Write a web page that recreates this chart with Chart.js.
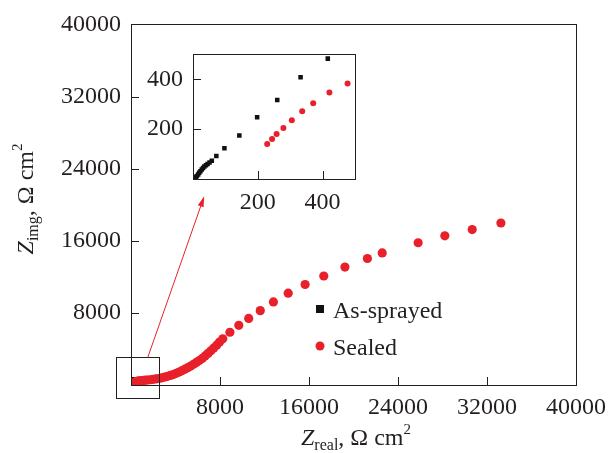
<!DOCTYPE html>
<html>
<head>
<meta charset="utf-8">
<script src="https://cdn.jsdelivr.net/npm/chart.js@4.4.0/dist/chart.umd.min.js"></script>
<style>
  body { margin: 0; background: #fff; }
  #wrap { position: relative; width: 614px; height: 453px; }
  #mainChart { position: absolute; left: 0; top: 0; }
  #insetChart { position: absolute; left: 130px; top: 30px; }
</style>
</head>
<body>
<div id="wrap">
  <canvas id="mainChart" width="614" height="453"></canvas>
  <canvas id="insetChart" width="240" height="190"></canvas>
</div>
<script>
// impedance data, Ohm cm2
const asSprayedX = [3, 6, 9, 12, 16, 19, 23, 27, 31, 35, 40, 45, 51, 58, 72, 97, 143, 198, 260, 332, 416];
const asSprayedY = [0, 5, 8, 12, 18, 25, 31, 38, 44, 50, 55, 60, 66, 73, 92, 123, 175, 248, 317, 408, 483];

const sealedX = [229, 244, 258, 279, 305, 337, 371, 421, 477, 540, 620, 720, 840, 980, 1140, 1320, 1520,
  1740, 1980, 2240, 2500, 2760, 3020, 3280, 3540, 3800, 4060, 4320, 4580, 4840, 5100, 5360, 5620, 5880,
  6140, 6400, 6660, 6920, 7180, 7440, 7700, 7960, 8250, 8890, 9690, 10580, 11620, 12800, 14130, 15650,
  17330, 19230, 21250, 22580, 25810, 28210, 30670, 33250];
const sealedY = [140, 161, 181, 205, 236, 272, 304, 347, 383, 405, 425, 445, 465, 485, 505, 530, 555,
  585, 625, 670, 720, 800, 880, 960, 1060, 1160, 1290, 1430, 1590, 1750, 1920, 2100, 2300, 2500,
  2720, 2950, 3220, 3500, 3800, 4100, 4420, 4760, 5120, 5850, 6620, 7380, 8250, 9210, 10190, 11150,
  12090, 13080, 14030, 14650, 15780, 16550, 17240, 17970];

const mainTicks = [0, 8000, 16000, 24000, 32000, 40000];
const insetTicks = [0, 200, 400];

// zoom box around the origin and the arrow to the inset (main chart units)
const zoomBox = { x1: -1330, x2: 2490, y1: -1420, y2: 3070 };
const arrowFrom = { x: 1510, y: 3070 };
const arrowTo = { x: 6580, y: 20930 };

const RED = "#e8202a";
const INK = "#231f20";
const FONT = '"Liberation Serif", "Times New Roman", serif';

const toPoints = (xs, ys) => xs.map((x, i) => ({ x: x, y: ys[i] }));

// axis box + inward tick marks
const framePlugin = {
  id: "frame",
  afterDatasetsDraw(chart) {
    const ctx = chart.ctx;
    const a = chart.chartArea;
    ctx.save();
    ctx.strokeStyle = INK;
    ctx.lineWidth = 1;
    ctx.strokeRect(Math.round(a.left) + 0.5, Math.round(a.top) + 0.5,
      Math.round(a.right - a.left), Math.round(a.bottom - a.top));
    const tl = chart.options.tickIn || 8;
    ctx.beginPath();
    chart.scales.x.ticks.forEach((t) => {
      if (t.value === chart.scales.x.min || t.value === chart.scales.x.max) return;
      const px = Math.round(chart.scales.x.getPixelForValue(t.value)) + 0.5;
      ctx.moveTo(px, a.bottom);
      ctx.lineTo(px, a.bottom - tl);
    });
    chart.scales.y.ticks.forEach((t) => {
      if (t.value === chart.scales.y.min || t.value === chart.scales.y.max) return;
      const py = Math.round(chart.scales.y.getPixelForValue(t.value)) + 0.5;
      ctx.moveTo(a.left, py);
      ctx.lineTo(a.left + tl, py);
    });
    ctx.stroke();
    ctx.restore();
  },
};

// Z with subscript and cm with superscript
function drawZLabel(ctx, sub, cx, cy, rotated) {
  const parts = [
    { t: "Z", f: "italic 24px " + FONT, dy: 0 },
    { t: sub, f: "16px " + FONT, dy: 5 },
    { t: ", \u03A9 cm", f: "24px " + FONT, dy: 0 },
    { t: "2", f: "15px " + FONT, dy: -11 },
  ];
  let w = 0;
  parts.forEach((p) => {
    ctx.font = p.f;
    p.w = ctx.measureText(p.t).width;
    w += p.w;
  });
  ctx.save();
  ctx.translate(cx, cy);
  if (rotated) ctx.rotate(-Math.PI / 2);
  ctx.fillStyle = INK;
  ctx.textBaseline = "alphabetic";
  let x = -w / 2;
  parts.forEach((p) => {
    ctx.font = p.f;
    ctx.fillText(p.t, x, p.dy);
    x += p.w;
  });
  ctx.restore();
}

const extrasPlugin = {
  id: "extras",
  afterDraw(chart) {
    const ctx = chart.ctx;
    const xs = chart.scales.x;
    const ys = chart.scales.y;
    ctx.save();
    // zoom box
    const bx1 = Math.round(xs.getPixelForValue(zoomBox.x1)) + 0.5;
    const bx2 = Math.round(xs.getPixelForValue(zoomBox.x2)) + 0.5;
    const by1 = Math.round(ys.getPixelForValue(zoomBox.y2)) + 0.5;
    const by2 = Math.round(ys.getPixelForValue(zoomBox.y1)) + 0.5;
    ctx.strokeStyle = INK;
    ctx.lineWidth = 1;
    ctx.strokeRect(bx1, by1, bx2 - bx1, by2 - by1);
    // arrow
    const ax1 = xs.getPixelForValue(arrowFrom.x);
    const ay1 = ys.getPixelForValue(arrowFrom.y);
    const ax2 = xs.getPixelForValue(arrowTo.x);
    const ay2 = ys.getPixelForValue(arrowTo.y);
    const ang = Math.atan2(ay2 - ay1, ax2 - ax1);
    const hl = 11;
    ctx.strokeStyle = RED;
    ctx.fillStyle = RED;
    ctx.beginPath();
    ctx.moveTo(ax1, ay1);
    ctx.lineTo(ax2 - hl * 0.8 * Math.cos(ang), ay2 - hl * 0.8 * Math.sin(ang));
    ctx.stroke();
    ctx.beginPath();
    ctx.moveTo(ax2, ay2);
    ctx.lineTo(ax2 - hl * Math.cos(ang - 0.28), ay2 - hl * Math.sin(ang - 0.28));
    ctx.lineTo(ax2 - hl * Math.cos(ang + 0.28), ay2 - hl * Math.sin(ang + 0.28));
    ctx.closePath();
    ctx.fill();
    // legend
    const ds = chart.data.datasets;
    ctx.fillStyle = ds[0].backgroundColor;
    ctx.fillRect(316, 305, 8, 8);
    ctx.fillStyle = ds[1].backgroundColor;
    ctx.beginPath();
    ctx.arc(320, 346, 4.5, 0, Math.PI * 2);
    ctx.fill();
    ctx.fillStyle = INK;
    ctx.font = "24px " + FONT;
    ctx.textBaseline = "alphabetic";
    ctx.fillText(ds[0].label, 333, 318);
    ctx.fillText(ds[1].label, 333, 355);
    ctx.restore();
    // axis titles
    drawZLabel(ctx, "real", 356, 445, false);
    drawZLabel(ctx, "img", 33, 199, true);
  },
};

const tickFont = { family: FONT, size: 24 };

new Chart(document.getElementById("mainChart"), {
  type: "scatter",
  data: {
    datasets: [
      {
        label: "As-sprayed",
        data: toPoints(asSprayedX, asSprayedY),
        pointStyle: "rect",
        pointRadius: 5,
        backgroundColor: "#111111",
        borderWidth: 0,
        order: 2,
      },
      {
        label: "Sealed",
        data: toPoints(sealedX, sealedY),
        pointStyle: "circle",
        pointRadius: 4.6,
        backgroundColor: RED,
        borderWidth: 0,
        order: 1,
      },
    ],
  },
  options: {
    responsive: false,
    animation: false,
    events: [],
    tickIn: 8,
    layout: { padding: { left: 0, top: 20, right: 33, bottom: 0 } },
    plugins: { legend: { display: false }, tooltip: { enabled: false } },
    scales: {
      x: {
        type: "linear",
        min: 0,
        max: 40000,
        afterBuildTicks: (s) => { s.ticks = mainTicks.map((v) => ({ value: v })); },
        afterFit: (s) => { s.height = 68; },
        grid: { drawOnChartArea: false, drawTicks: false },
        border: { display: true, color: INK },
        ticks: {
          callback: (v) => (v === 0 ? "" : String(v)),
          font: tickFont,
          color: INK,
          padding: 8,
          maxRotation: 0,
          autoSkip: false,
        },
      },
      y: {
        type: "linear",
        min: 0,
        max: 40000,
        afterBuildTicks: (s) => { s.ticks = mainTicks.map((v) => ({ value: v })); },
        afterFit: (s) => { s.width = 131; },
        grid: { drawOnChartArea: false, drawTicks: false },
        border: { display: true, color: INK },
        ticks: {
          callback: (v) => (v === 0 ? "" : String(v)),
          font: tickFont,
          color: INK,
          padding: 10,
          autoSkip: false,
        },
      },
    },
  },
  plugins: [framePlugin, extrasPlugin],
});

new Chart(document.getElementById("insetChart"), {
  type: "scatter",
  data: {
    datasets: [
      {
        label: "As-sprayed",
        data: toPoints(asSprayedX, asSprayedY),
        pointStyle: "rect",
        pointRadius: 3.2,
        backgroundColor: "#111111",
        borderWidth: 0,
      },
      {
        label: "Sealed",
        data: toPoints(sealedX, sealedY),
        pointStyle: "circle",
        pointRadius: 3,
        backgroundColor: RED,
        borderWidth: 0,
      },
    ],
  },
  options: {
    responsive: false,
    animation: false,
    events: [],
    tickIn: 8,
    layout: { padding: { left: 0, top: 17, right: 15, bottom: 0 } },
    plugins: { legend: { display: false }, tooltip: { enabled: false } },
    scales: {
      x: {
        type: "linear",
        min: 0,
        max: 500,
        afterBuildTicks: (s) => { s.ticks = insetTicks.map((v) => ({ value: v })); },
        afterFit: (s) => { s.height = 41; },
        grid: { drawOnChartArea: false, drawTicks: false },
        border: { display: true, color: INK },
        ticks: {
          callback: (v) => (v === 0 ? "" : String(v)),
          font: tickFont,
          color: INK,
          padding: 9,
          maxRotation: 0,
          autoSkip: false,
        },
      },
      y: {
        type: "linear",
        min: 0,
        max: 500,
        afterBuildTicks: (s) => { s.ticks = insetTicks.map((v) => ({ value: v })); },
        afterFit: (s) => { s.width = 63; },
        grid: { drawOnChartArea: false, drawTicks: false },
        border: { display: true, color: INK },
        ticks: {
          callback: (v) => (v === 0 ? "" : String(v)),
          font: tickFont,
          color: INK,
          padding: 10,
          autoSkip: false,
        },
      },
    },
  },
  plugins: [framePlugin],
});
</script>
</body>
</html>
